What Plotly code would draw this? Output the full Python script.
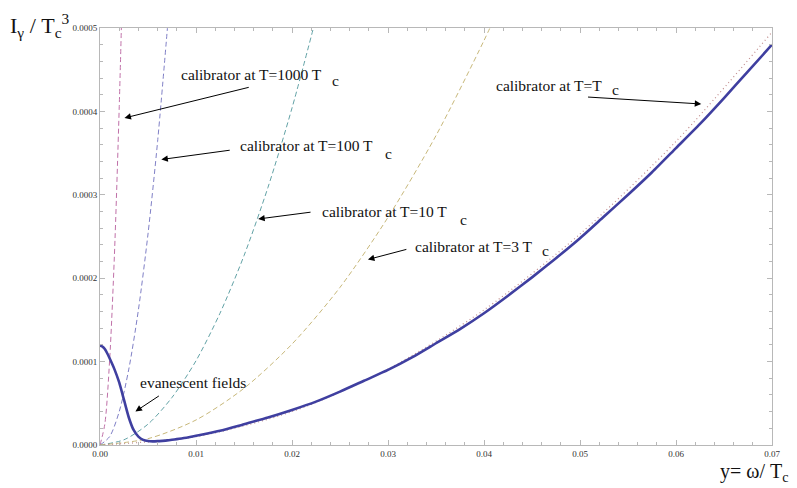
import plotly.graph_objects as go

# Photon intensity I_gamma / Tc^3 versus y = omega / Tc (values in units of 1e-4)
x_signal = [0.0, 0.00025, 0.0005, 0.00075, 0.001, 0.0015, 0.002, 0.0025, 0.003, 0.0035,
            0.004, 0.0045, 0.005, 0.0055, 0.006, 0.0065, 0.007, 0.0075, 0.008, 0.0085,
            0.009, 0.0095, 0.01, 0.0125, 0.015, 0.0175, 0.02, 0.0225, 0.025, 0.0275,
            0.03, 0.0325, 0.035, 0.0375, 0.04, 0.0425, 0.045, 0.0475, 0.05, 0.0525,
            0.055, 0.0575, 0.06, 0.0625, 0.065, 0.0675, 0.07]
y_signal = [1.19, 1.18, 1.15, 1.10, 1.04, 0.91, 0.75, 0.54, 0.33, 0.18,
            0.10, 0.062, 0.048, 0.044, 0.046, 0.050, 0.055, 0.062, 0.070, 0.079,
            0.088, 0.098, 0.11, 0.17, 0.25, 0.33, 0.42, 0.52, 0.64, 0.77,
            0.90, 1.05, 1.22, 1.39, 1.58, 1.79, 2.01, 2.24, 2.48, 2.74,
            3.00, 3.27, 3.56, 3.85, 4.16, 4.48, 4.80]

# Calibrator curves at different temperatures
x_cal_1000 = [0.0, 0.0005, 0.001, 0.0015, 0.002, 0.0023]
y_cal_1000 = [0.0, 0.25, 1.01, 2.27, 4.04, 5.34]

x_cal_100 = [0.0, 0.001, 0.002, 0.003, 0.004, 0.005, 0.006, 0.0073]
y_cal_100 = [0.0, 0.10, 0.40, 0.91, 1.62, 2.53, 3.64, 5.38]

x_cal_10 = [0.0, 0.0025, 0.005, 0.0075, 0.01, 0.0125, 0.015, 0.0175, 0.02, 0.023]
y_cal_10 = [0.0, 0.063, 0.25, 0.57, 1.01, 1.58, 2.27, 3.09, 4.04, 5.34]

x_cal_3 = [0.0, 0.005, 0.01, 0.015, 0.02, 0.025, 0.03, 0.035, 0.04, 0.042]
y_cal_3 = [0.0, 0.076, 0.30, 0.68, 1.21, 1.89, 2.73, 3.71, 4.85, 5.35]

x_cal_1 = [0.0, 0.01, 0.02, 0.03, 0.04, 0.05, 0.06, 0.07]
y_cal_1 = [0.0, 0.10, 0.40, 0.91, 1.62, 2.53, 3.64, 4.95]

SCALE = 1e-4

def scaled(values):
    return [v * SCALE for v in values]

fig = go.Figure()

calibrators = [
    (x_cal_1000, y_cal_1000, "#C070A8", "5px,3px", 1),
    (x_cal_100, y_cal_100, "#7F7FC6", "5px,3px", 1),
    (x_cal_10, y_cal_10, "#62A2A6", "5px,3px", 1),
    (x_cal_3, y_cal_3, "#C8B87A", "5px,3px", 1),
    (x_cal_1, y_cal_1, "#C08C8C", "1px,3px", 1.2),
]
for xs, ys, color, dash, width in calibrators:
    fig.add_trace(go.Scatter(
        x=xs, y=scaled(ys), mode="lines",
        line=dict(color=color, width=width, dash=dash, shape="spline", smoothing=0.8),
        hoverinfo="skip", showlegend=False,
    ))

fig.add_trace(go.Scatter(
    x=x_signal, y=scaled(y_signal), mode="lines",
    line=dict(color="#3F3FA0", width=2.6, shape="spline", smoothing=0.6),
    hoverinfo="skip", showlegend=False,
))

serif = "Liberation Serif"
label_font = dict(family=serif, size=15.5, color="#111111")

# Labels: (text, x, y) anchored on the left, subscript "c" placed separately
labels = [
    ("calibrator at T=1000 T", 0.00826, 4.448, "c", 0.02448, 4.376),
    ("calibrator at T=100 T", 0.01440, 3.591, "c", 0.03009, 3.501),
    ("calibrator at T=10 T", 0.02292, 2.794, "c", 0.03789, 2.698),
    ("calibrator at T=3 T", 0.03259, 2.386, "c", 0.04641, 2.338),
    ("calibrator at T=T", 0.04101, 4.305, "c", 0.05369, 4.257),
]
annotations = []
for text, tx, ty, sub, sx, sy in labels:
    annotations.append(dict(text=text, x=tx, y=ty * SCALE, xref="x", yref="y",
                            xanchor="left", yanchor="middle", showarrow=False,
                            font=label_font))
    annotations.append(dict(text=sub, x=sx, y=sy * SCALE, xref="x", yref="y",
                            xanchor="center", yanchor="middle", showarrow=False,
                            font=label_font))
annotations.append(dict(text="evanescent fields", x=0.00400, y=0.755 * SCALE,
                        xref="x", yref="y", xanchor="left", yanchor="middle",
                        showarrow=False, font=label_font))

# Arrows: (head x, head y, tail x, tail y)
arrows = [
    (0.00255, 3.921, 0.01565, 4.293),
    (0.00639, 3.423, 0.01367, 3.537),
    (0.01648, 2.710, 0.02209, 2.794),
    (0.02791, 2.224, 0.03207, 2.350),
    (0.06263, 4.089, 0.05068, 4.173),
    (0.00369, 0.402, 0.00629, 0.600),
]
for hx, hy, tx, ty in arrows:
    annotations.append(dict(text="", x=hx, y=hy * SCALE, ax=tx, ay=ty * SCALE,
                            xref="x", yref="y", axref="x", ayref="y",
                            showarrow=True, arrowhead=2, arrowsize=1.3,
                            arrowwidth=1, arrowcolor="#000000"))

# Axis titles
annotations.append(dict(text="I<sub>γ</sub> / T<sub>c</sub><sup>3</sup>",
                        x=-0.137, y=1.005, xref="paper", yref="paper",
                        xanchor="left", yanchor="middle", showarrow=False,
                        font=dict(family=serif, size=22, color="#111111")))
annotations.append(dict(text="y= ω/ T<sub>c</sub>",
                        x=1.027, y=-0.067, xref="paper", yref="paper",
                        xanchor="right", yanchor="middle", showarrow=False,
                        font=dict(family=serif, size=20, color="#111111")))

frame = "#B8B8B8"
tick_font = dict(family=serif, size=9, color="#333333")

fig.update_layout(
    width=797, height=488,
    margin=dict(l=100, r=25, t=28, b=43),
    paper_bgcolor="white", plot_bgcolor="white",
    font=dict(family=serif),
    annotations=annotations,
    xaxis=dict(range=[0, 0.07], dtick=0.01, tickformat=".2f",
               showgrid=False, zeroline=False,
               showline=True, linecolor=frame, linewidth=1, mirror="ticks",
               ticks="inside", ticklen=5, tickcolor=frame, tickfont=tick_font,
               minor=dict(ticks="inside", dtick=0.002, ticklen=3, tickcolor=frame)),
    yaxis=dict(range=[0, 0.0005], dtick=0.0001, tickformat=".4f",
               showgrid=False, zeroline=False,
               showline=True, linecolor=frame, linewidth=1, mirror="ticks",
               ticks="inside", ticklen=5, tickcolor=frame, tickfont=tick_font,
               minor=dict(ticks="inside", dtick=0.00002, ticklen=3, tickcolor=frame)),
)

fig.write_html("out.html")
